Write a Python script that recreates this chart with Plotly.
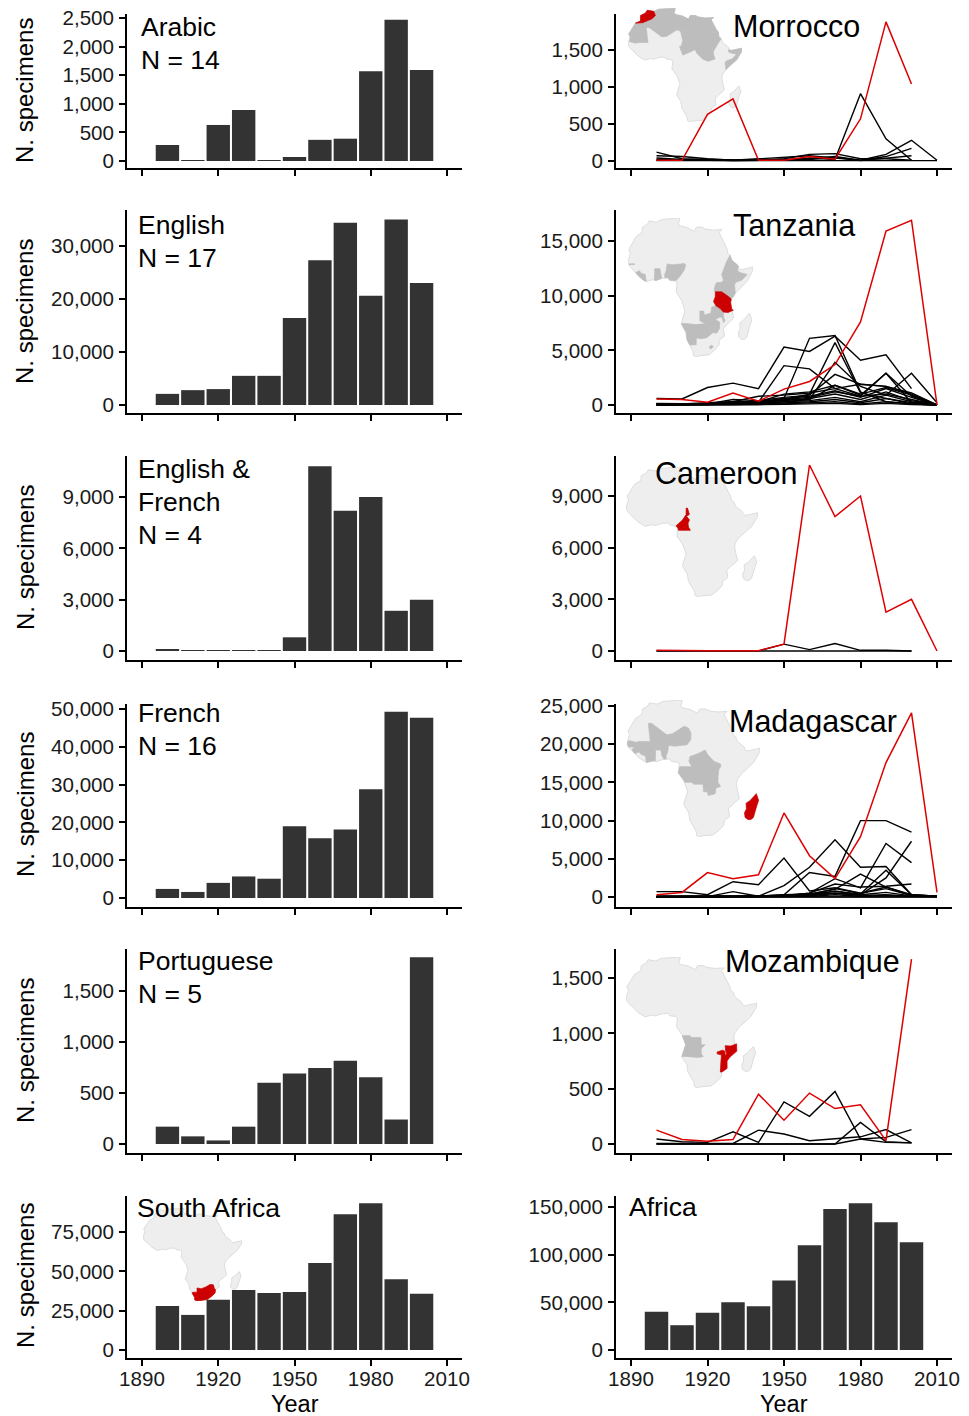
import plotly.graph_objects as go

W, H = 969, 1416
YEARS_BAR = [1900, 1910, 1920, 1930, 1940, 1950, 1960, 1970, 1980, 1990, 2000]
YEARS_LINE = YEARS_BAR + [2010]
XTICKS = [1890, 1920, 1950, 1980, 2010]

# --- bar values ---
ARABIC = [280, 10, 630, 890, 15, 70, 370, 390, 1570, 2470, 1590]
ENGLISH = [2100, 2800, 3000, 5500, 5500, 16400, 27300, 34400, 20600, 35000, 23000]
ENG_FR = [60, 30, 30, 30, 30, 800, 10800, 8200, 9000, 2350, 3000]
FRENCH = [2400, 1600, 4000, 5700, 5100, 19000, 15800, 18100, 28800, 49300, 47700]
PORTUGUESE = [170, 75, 35, 170, 600, 690, 745, 815, 655, 240, 1830]
SOUTH_AFRICA = [28000, 22300, 32000, 38200, 36300, 36800, 55300, 86300, 93300, 45000, 35700]
AFRICA = [40000, 26000, 39000, 50000, 46000, 73000, 110000, 148000, 154000, 134000, 113000]

# --- line values: highlighted country, then other countries of the language group ---
MOROCCO_RED = [10, 10, 630, 840, 10, 10, 60, 25, 570, 1880, 1040, None]
MOROCCO_OTHERS = [
    [120, 30, 20, 10, 10, 30, 90, 100, 30, 30, 10, None],
    [70, 60, 30, 10, 30, 50, 70, 40, 10, 90, 280, 10],
    [20, 20, 10, 5, 5, 10, 40, 20, 910, 300, 10, None],
    [40, 20, 15, 5, 10, 20, 30, 60, 10, 60, 170, None],
    [10, 10, 10, 5, 5, 10, 20, 50, 5, 40, 70, None],
    [5, 5, 5, 5, 5, 5, 5, 5, 5, 5, 5, 5],
]
TANZANIA_RED = [550, 500, 250, 1100, 350, 1450, 2150, 3700, 7600, 15900, 16900, 0]
TANZANIA_OTHERS = [
    [600, 550, 1600, 2000, 1500, 5300, 4900, 6300, 4100, 4600, 1500, None],
    [100, 100, 200, 300, 250, 3600, 3300, 1500, 800, 2900, 200, 0],
    [100, 100, 100, 300, 300, 600, 6100, 6350, 1200, 300, 100, 0],
    [50, 50, 50, 100, 100, 500, 1000, 5700, 1100, 600, 100, 0],
    [100, 100, 100, 200, 200, 500, 500, 3900, 1700, 900, 2900, 200],
    [150, 100, 100, 500, 400, 700, 900, 2800, 1900, 1700, 1100, 0],
    [50, 50, 100, 200, 300, 1000, 1200, 1800, 900, 2900, 800, 0],
    [100, 80, 100, 300, 800, 900, 1100, 1500, 1900, 1700, 1000, 0],
    [80, 50, 100, 200, 200, 600, 800, 1300, 700, 1500, 700, 0],
    [30, 30, 50, 150, 200, 400, 600, 1000, 500, 1200, 400, 0],
    [20, 20, 30, 100, 100, 300, 400, 700, 300, 900, 300, 0],
    [10, 10, 20, 50, 80, 200, 300, 500, 200, 600, 200, 0],
    [10, 10, 10, 30, 50, 100, 200, 300, 100, 300, 100, 0],
    [5, 5, 10, 20, 30, 60, 100, 150, 50, 150, 50, 0],
    [40, 30, 60, 120, 150, 500, 700, 1200, 800, 1000, 500, 0],
    [20, 20, 40, 80, 120, 300, 500, 1800, 1000, 1600, 900, 0],
]
CAMEROON_RED = [50, 20, 20, 20, 20, 400, 10800, 7800, 9000, 2250, 3000, 0]
CAMEROON_OTHERS = [
    [10, 10, 10, 10, 10, 400, 80, 430, 40, 40, 0, None],
    [0, 0, 0, 0, 0, 0, 0, 0, 0, 0, 0, None],
]
MADAGASCAR_RED = [300, 600, 3200, 2400, 2900, 11000, 5400, 2400, 7900, 17600, 24100, 600]
MADAGASCAR_OTHERS = [
    [700, 700, 300, 2000, 1600, 5100, 800, 1200, 500, 1300, 300, 100],
    [100, 100, 100, 100, 100, 1500, 3900, 7500, 3900, 4000, 300, 100],
    [100, 100, 100, 100, 100, 300, 3200, 2700, 10000, 10000, 8500, None],
    [100, 100, 100, 100, 100, 100, 500, 2400, 1200, 7000, 4500, None],
    [50, 50, 100, 100, 50, 100, 300, 500, 300, 2500, 7300, None],
    [50, 50, 50, 700, 100, 300, 400, 1000, 3000, 1300, 200, 100],
    [50, 50, 50, 100, 100, 200, 400, 700, 400, 3500, 300, 100],
    [30, 30, 50, 100, 50, 200, 500, 1700, 1300, 1400, 1700, None],
    [30, 30, 30, 50, 50, 100, 300, 1100, 500, 1100, 200, 100],
    [20, 20, 30, 50, 50, 100, 200, 800, 300, 600, 150, 50],
    [10, 10, 20, 30, 30, 50, 150, 500, 200, 300, 100, 50],
    [10, 10, 10, 20, 20, 30, 80, 300, 100, 200, 80, 50],
    [5, 5, 10, 10, 10, 20, 50, 100, 50, 100, 50, 20],
    [0, 0, 0, 0, 0, 10, 20, 50, 20, 50, 20, 0],
]
MOZAMBIQUE_RED = [125, 40, 25, 40, 450, 215, 460, 320, 355, 30, 1670, None]
MOZAMBIQUE_OTHERS = [
    [45, 20, 15, 110, 15, 380, 250, 475, 45, 15, 10, None],
    [5, 5, 5, 5, 125, 90, 30, 45, 65, 130, 10, None],
    [0, 0, 0, 0, 0, 0, 0, 0, 195, 20, 10, None],
    [0, 0, 0, 0, 0, 0, 0, 0, 45, 60, 130, None],
]

# --- map outlines, lon / lat ---
AFRICA_LON = [-5.9, -2, 1, 5, 10, 11, 10.2, 11, 15.2, 19, 20, 23, 25, 29, 32.3, 34.2, 32.6, 33.6, 35.5, 37, 37.3, 38.6, 39.5, 43.1, 43.3, 44.5, 51.2, 50.8, 48, 44, 41.5, 39.5, 39, 39.5, 40.6, 37, 34.9, 35.5, 32.8, 32.5, 30, 27, 22, 20, 18.4, 18.3, 16.5, 15, 14.4, 11.8, 13.8, 12.2, 9, 9.5, 8.5, 5.5, 4.4, 1, -2, -4, -7.5, -11.4, -13.3, -15, -16.7, -17.5, -16.2, -17, -14.9, -13, -9.8, -9.5, -6.8]
AFRICA_LAT = [35.8, 35.1, 36.5, 36.8, 37.3, 36.9, 34.3, 33.2, 32.3, 30.3, 32.5, 32.6, 31.6, 31, 31.2, 31.3, 29.9, 27.8, 24, 21, 19, 18, 15.5, 12.5, 11.5, 10.4, 11.9, 9.5, 4.5, 1, -1.7, -4.6, -6.5, -10, -14.5, -17.8, -20, -24, -26, -28.6, -31.3, -33.7, -34.1, -34.8, -34, -32, -28.6, -26, -22, -17.5, -11, -6, -1, 3.5, 4.6, 5, 6.3, 6, 4.9, 5.3, 4.4, 6.9, 9, 11, 12.5, 14.7, 19, 21, 24.6, 27.7, 29.8, 32.5, 34.1]
MADAGASCAR_OUT = [(49.3, -12), (50.5, -15.5), (49.5, -18.5), (47.8, -24.5), (46.5, -25.6), (45, -25.6), (43.5, -24.5), (43.2, -22), (44.2, -20), (44, -17), (46, -15.7), (48, -13.5)]
MOROCCO_OUT = [(-5.9, 35.9), (-2, 35.2), (-1, 32.6), (-3, 30.5), (-8.7, 28), (-13, 27.7), (-10, 29), (-10, 32.5), (-7, 34.2)]
ALGERIA = [(-2, 35.1), (1, 36.5), (5, 36.8), (8.6, 36.9), (8, 33), (9.5, 30), (9.9, 26.5), (12, 23.5), (6, 19.5), (3, 19), (-4.8, 25), (-8.7, 27.3), (-8.7, 28.7), (-3.6, 31), (-1.2, 32.6)]
TUNISIA = [(8.6, 36.9), (10, 37.3), (11, 36.9), (10.2, 34.3), (11.5, 33), (9.5, 30), (8, 33)]
LIBYA = [(11.5, 33), (15.2, 32.3), (19, 30.3), (20, 32.5), (23, 32.6), (25, 31.6), (25, 20), (24, 19.5), (16, 23.5), (14.2, 22.6), (12, 23.5), (9.9, 26.5), (9.5, 30)]
EGYPT = [(25, 31.6), (29, 31), (32.3, 31.2), (34.2, 31.3), (32.6, 29.9), (33.6, 27.8), (35.5, 24), (37, 22), (25, 22)]
SUDAN = [(25, 22), (37, 22), (37.3, 19), (38.6, 18), (36.5, 14.3), (34, 10), (34, 8), (35, 5), (30.8, 3.6), (27.4, 5), (24, 8.7), (22.9, 11), (22, 13), (24, 15.7), (24, 20), (25, 20)]
MAURITANIA = [(-17, 21), (-12.9, 21.3), (-13, 23), (-8.7, 27.3), (-4.8, 25), (-6.5, 25), (-5.5, 15.5), (-11.5, 15.5), (-12.8, 15), (-16.5, 16), (-16.2, 19)]
W_SAHARA = [(-13, 27.7), (-8.7, 27.7), (-8.7, 27.3), (-13, 23), (-12.9, 21.3), (-17, 21), (-14.9, 24.6)]
SOMALIA = [(41.5, -1.7), (44, 1), (48, 4.5), (50.8, 9.5), (51.2, 11.9), (44.5, 10.4), (43.3, 11), (42.8, 10), (44, 9), (48, 8), (45, 5), (42, 4), (41, 2.8)]
CHAD = [(14.2, 22.6), (16, 23.5), (24, 19.5), (24, 15.7), (22, 13), (22.9, 11), (19, 9), (15.5, 7.5), (13.5, 13), (14.5, 13), (15.5, 16.5)]
TANZANIA_OUT = [(30.5, -1), (34, -1), (37.7, -3.4), (39.2, -4.7), (38.9, -6.5), (39.5, -10), (40.4, -10.5), (37.5, -11.7), (34.9, -11.5), (33, -9.5), (30.8, -8.2), (29.5, -6), (30.5, -3.5)]
KENYA = [(34, -1), (37.7, -3.4), (39.5, -4.6), (41.5, -1.7), (41, 2.8), (42, 4), (39.5, 3.4), (36, 4.5), (35, 5), (34, 4), (34, 1)]
UGANDA = [(30, -1), (34, -1), (34, 1), (34, 4), (31, 3.7), (30, 1)]
ETHIOPIA = [(34, 8), (36.5, 14.3), (38.6, 18), (39.5, 15.5), (43.1, 12.5), (42.8, 10), (44, 9), (48, 8), (45, 5), (42, 4), (39.5, 3.4), (36, 4.5), (35, 5)]
MALAWI = [(33, -9.5), (34.9, -11.5), (35, -14), (35.8, -16), (35, -17), (34.3, -14.5), (33, -14), (33.5, -11)]
ZAMBIA = [(22, -11), (24, -11), (24.5, -13), (28, -12), (28.5, -9), (30.8, -8.2), (33, -9.5), (33.5, -11), (33, -14), (30.5, -15.5), (28, -16), (25.3, -17.7), (22, -16)]
ZIMBABWE = [(25.3, -17.7), (28, -16), (30.5, -15.5), (32.9, -16.7), (32.8, -20), (31.3, -22.4), (29, -22.2), (26, -19.5)]
BOTSWANA = [(20, -18), (25.3, -17.7), (26, -19.5), (29, -22.2), (26, -24.7), (23, -25.3), (20, -25), (20, -22), (21, -22)]
NAMIBIA = [(11.8, -17.5), (14, -17.4), (20, -18), (25.3, -17.7), (21, -18.3), (21, -22), (20, -22), (20, -28.4), (17, -28.6), (16.5, -28.6), (15, -26), (14.4, -22)]
LESOTHO = [(27, -29.6), (28.5, -28.7), (29.4, -29.5), (28, -30.6)]
NIGERIA = [(2.7, 6.3), (4.4, 6.3), (5.5, 5), (8.5, 4.6), (9, 4.9), (11, 7), (13.5, 10.5), (14.2, 12.8), (13.5, 13.7), (10, 13.3), (7, 13), (4, 13.5), (3.5, 10), (2.7, 8)]
GHANA = [(-3, 5.1), (-2, 4.9), (1, 6), (0.5, 8), (0, 11), (-2.8, 11), (-2.7, 8)]
SIERRA_LIBERIA = [(-13.3, 9), (-11.3, 10), (-10, 8.5), (-8, 8), (-7.5, 4.4), (-9, 5), (-11.4, 6.9)]
GAMBIA = [(-16.8, 13.5), (-14, 13.6), (-14, 13.2), (-16.8, 13.1)]
CAMEROON_OUT = [(8.5, 4.6), (9.5, 3.5), (9.8, 2.2), (16, 2.2), (15, 4), (14.8, 6), (15.5, 8), (14, 10), (15.5, 11), (14.5, 14.5), (13.8, 14.5), (13.8, 11), (12, 8), (10.5, 6.5), (9, 5.5)]
WEST_FRANCO = [(-17.5, 14.7), (-16.5, 16), (-12.8, 15), (-11.5, 15.5), (-5.5, 15.5), (-6.5, 25), (-4.8, 25), (3, 19), (6, 19.5), (12, 23.5), (14.2, 22.6), (15.5, 20), (15.5, 16.5), (13.5, 13.7), (10, 13.3), (7, 13), (4, 13.5), (3.5, 10), (2.7, 8), (2.7, 6.3), (1.6, 6.2), (0.5, 8), (0, 11), (-2.8, 11), (-2.7, 8), (-3, 5.1), (-4, 5.3), (-7.5, 4.4), (-8, 8), (-10, 8.5), (-11.3, 10), (-13.3, 9), (-15, 11), (-13.7, 12.6), (-16.7, 12.5)]
CENTRAL_FRANCO = [(9.5, 1), (9.8, 2.2), (16, 2.2), (14.5, 5), (15, 7.5), (19, 9), (22.9, 11), (24, 8.7), (27.4, 5), (30.8, 3.6), (31, 2.3), (30, 1), (29.5, -3), (29.5, -6), (30.8, -8.2), (28.5, -9), (28, -12), (24.5, -13), (24, -11), (22, -11), (21.8, -7), (17, -7), (16, -6), (12.2, -6), (12, -5), (9, -1)]
MOZAMBIQUE_OUT = [(40.5, -10.5), (40.6, -14.5), (37, -17.8), (35.5, -20), (35.5, -24), (32.8, -26), (32, -26), (32, -22.4), (32.3, -20), (32.6, -16.7), (30.3, -16), (30.3, -15), (33, -14), (34.3, -14.5), (34.6, -17.2), (35.2, -16), (34.7, -14), (34.5, -11.5), (37.5, -11.7)]
ANGOLA = [(12, -6), (16, -6), (17, -7), (21.8, -7), (22, -11), (24, -11), (22, -13), (22, -16), (23, -17.6), (20, -18), (14, -17.4), (11.8, -17.5), (13.8, -11)]
SOUTH_AFRICA_OUT = [(16.5, -28.6), (17, -28), (20, -28), (20, -24.7), (23, -25.3), (26, -24), (29, -22), (31.3, -22.2), (32, -25), (32.8, -26), (32.5, -28.6), (30, -31.3), (27, -33.7), (22, -34.1), (20, -34.8), (18.4, -34), (18.3, -32)]

BAR_C, BLACK, RED = "#333333", "#000000", "#DD0000"
LAND, GREY, MAPRED = "#EEEEEE", "#BDBDBD", "#CC0000"
FONT = "Liberation Sans, Arial, sans-serif"

# pixel frames, in page pixels
ROWS = [(14, 168), (210, 413), (456, 660), (704, 907), (949, 1153), (1196, 1358)]
LEFT_X = (127, 462)
RIGHT_X = (616, 952)
TICK_LEFT = (142, 447)
TICK_RIGHT = (631, 937)


def px(x):
    return x / W


def py(y):
    return 1 - y / H


fig = go.Figure()
layout = {}
annots = []
axis_no = 0


def new_axes():
    global axis_no
    axis_no += 1
    return axis_no


def add_map(box, red, greys):
    left, right, top, bottom = box
    n = new_axes()
    xa, ya = ("x", "y") if n == 1 else (f"x{n}", f"y{n}")
    layout["xaxis" if n == 1 else f"xaxis{n}"] = dict(domain=[px(left), px(right)], range=[-17.5, 51.2], visible=False, anchor=ya, fixedrange=True)
    layout["yaxis" if n == 1 else f"yaxis{n}"] = dict(domain=[py(bottom), py(top)], range=[-34.8, 37.3], visible=False, anchor=xa, fixedrange=True)

    def poly(lons, lats, color, outline=False):
        fig.add_trace(go.Scatter(x=lons + lons[:1], y=lats + lats[:1], mode="lines", fill="toself", fillcolor=color,
                                 line=dict(color="#DDDDDD" if outline else color, width=1 if outline else 0.7), xaxis=xa, yaxis=ya,
                                 hoverinfo="skip", showlegend=False))

    poly(AFRICA_LON, AFRICA_LAT, LAND, True)
    is_mad = red is MADAGASCAR_OUT
    poly([p[0] for p in MADAGASCAR_OUT], [p[1] for p in MADAGASCAR_OUT], MAPRED if is_mad else LAND, not is_mad)
    for g in greys:
        poly([p[0] for p in g], [p[1] for p in g], GREY)
    if not is_mad:
        poly([p[0] for p in red], [p[1] for p in red], MAPRED)


def axis_pair(xpx, ticks_px, row, ypx0, val, ypx_val, show_x, dtick):
    top, bottom = ROWS[row]
    n = new_axes()
    xa, ya = f"x{n}", f"y{n}"
    scale = 120 / (ticks_px[1] - ticks_px[0])
    xr = [1890 - (ticks_px[0] - xpx[0]) * scale, 2010 + (xpx[1] - ticks_px[1]) * scale]
    per_px = val / (ypx0 - ypx_val)
    yr = [-(bottom - ypx0) * per_px, (ypx0 - top) * per_px]
    tickfont = dict(size=20.6, color="#1a1a1a", family=FONT)
    layout[f"xaxis{n}"] = dict(domain=[px(xpx[0]), px(xpx[1])], range=xr, anchor=ya, tickmode="array", tickvals=XTICKS,
                               ticktext=[str(t) for t in XTICKS] if show_x else [""] * 5, showgrid=False, zeroline=False,
                               showline=True, linecolor="black", linewidth=1.7, ticks="outside", ticklen=6, tickwidth=1.5,
                               tickcolor="black", tickfont=tickfont, fixedrange=True, ticklabelstandoff=-5)
    layout[f"yaxis{n}"] = dict(domain=[py(bottom), py(top)], range=yr, anchor=xa, tick0=0, dtick=dtick, tickformat=",",
                               showgrid=False, zeroline=False, showline=True, linecolor="black", linewidth=1.7,
                               ticks="outside", ticklen=6, tickwidth=1.5, tickcolor="black",
                               tickfont=tickfont, fixedrange=True, ticklabelstandoff=1)
    return xa, ya


def add_bars(values, row, ypx0, val, ypx_val, dtick, xpx=LEFT_X, ticks=TICK_LEFT, show_x=False):
    xa, ya = axis_pair(xpx, ticks, row, ypx0, val, ypx_val, show_x, dtick)
    fig.add_trace(go.Bar(x=YEARS_BAR, y=values, width=9.2, marker=dict(color=BAR_C, line=dict(width=0)), xaxis=xa, yaxis=ya, showlegend=False))


def add_lines(red, others, row, ypx0, val, ypx_val, dtick):
    xa, ya = axis_pair(RIGHT_X, TICK_RIGHT, row, ypx0, val, ypx_val, False, dtick)
    for s in others:
        fig.add_trace(go.Scatter(x=YEARS_LINE, y=s, mode="lines", line=dict(color=BLACK, width=1.4), xaxis=xa, yaxis=ya, showlegend=False))
    fig.add_trace(go.Scatter(x=YEARS_LINE, y=red, mode="lines", line=dict(color=RED, width=1.5), xaxis=xa, yaxis=ya, showlegend=False))


def label(text, x, y, size):
    annots.append(dict(text=text, x=px(x - 2), y=py(y), xref="paper", yref="paper", xanchor="left", yanchor="middle",
                       showarrow=False, font=dict(size=size, color="black", family=FONT)))


# maps first so they sit beneath the panels
add_map((628, 742, 8, 122), MOROCCO_OUT, [ALGERIA, TUNISIA, LIBYA, EGYPT, SUDAN, CHAD, MAURITANIA, W_SAHARA, SOMALIA])
add_map((628, 753, 218, 357), TANZANIA_OUT, [KENYA, UGANDA, ETHIOPIA, MALAWI, ZAMBIA, ZIMBABWE, BOTSWANA, NAMIBIA, LESOTHO, NIGERIA, GHANA, SIERRA_LIBERIA, GAMBIA])
add_map((626, 758, 467, 597), CAMEROON_OUT, [])
add_map((627, 760, 700, 837), MADAGASCAR_OUT, [WEST_FRANCO, CENTRAL_FRANCO])
add_map((626, 757, 957, 1088), MOZAMBIQUE_OUT, [ANGOLA])
add_map((143, 242, 1208, 1301), SOUTH_AFRICA_OUT, [])

add_bars(ARABIC, 0, 161, 2500, 18, 500)
add_bars(ENGLISH, 1, 405, 30000, 246, 10000)
add_bars(ENG_FR, 2, 651, 9000, 497, 3000)
add_bars(FRENCH, 3, 898, 50000, 709, 10000)
add_bars(PORTUGUESE, 4, 1144, 1500, 991, 500)
add_bars(SOUTH_AFRICA, 5, 1350, 75000, 1232, 25000, show_x=True)

add_lines(MOROCCO_RED, MOROCCO_OTHERS, 0, 161, 1500, 50, 500)
add_lines(TANZANIA_RED, TANZANIA_OTHERS, 1, 405, 15000, 241, 5000)
add_lines(CAMEROON_RED, CAMEROON_OTHERS, 2, 651, 9000, 496, 3000)
add_lines(MADAGASCAR_RED, MADAGASCAR_OTHERS, 3, 897, 25000, 706, 5000)
add_lines(MOZAMBIQUE_RED, MOZAMBIQUE_OTHERS, 4, 1144, 1500, 978, 500)
add_bars(AFRICA, 5, 1350, 150000, 1207, 50000, xpx=RIGHT_X, ticks=TICK_RIGHT, show_x=True)

for t, x, y in [("Arabic", 141, 27), ("N = 14", 141, 60), ("English", 138, 225), ("N = 17", 138, 258),
                ("English &", 138, 469), ("French", 138, 502), ("N = 4", 138, 535), ("French", 138, 713),
                ("N = 16", 138, 746), ("Portuguese", 138, 961), ("N = 5", 138, 994), ("South Africa", 137, 1208),
                ("Africa", 629, 1207)]:
    label(t, x, y, 26.5)
for t, x, y in [("Morrocco", 733, 26), ("Tanzania", 733, 225), ("Cameroon", 655, 473), ("Madagascar", 729, 721), ("Mozambique", 725, 961)]:
    label(t, x, y, 30.5)
for yc in [91, 312, 558, 805, 1051, 1276]:
    annots.append(dict(text="N. specimens", x=px(25), y=py(yc), xref="paper", yref="paper", textangle=-90, showarrow=False,
                       xanchor="center", yanchor="middle", font=dict(size=24, color="black", family=FONT)))
for xc in [295, 784]:
    annots.append(dict(text="Year", x=px(xc), y=py(1404), xref="paper", yref="paper", showarrow=False,
                       xanchor="center", yanchor="middle", font=dict(size=23.5, color="black", family=FONT)))

fig.update_layout(width=W, height=H, margin=dict(l=0, r=0, t=0, b=0, autoexpand=False), paper_bgcolor="white", plot_bgcolor="rgba(0,0,0,0)",
                  showlegend=False, annotations=annots, font=dict(family=FONT), **layout)
fig.write_html("out.html", config=dict(displayModeBar=False), post_script="document.body.style.margin='0';")
